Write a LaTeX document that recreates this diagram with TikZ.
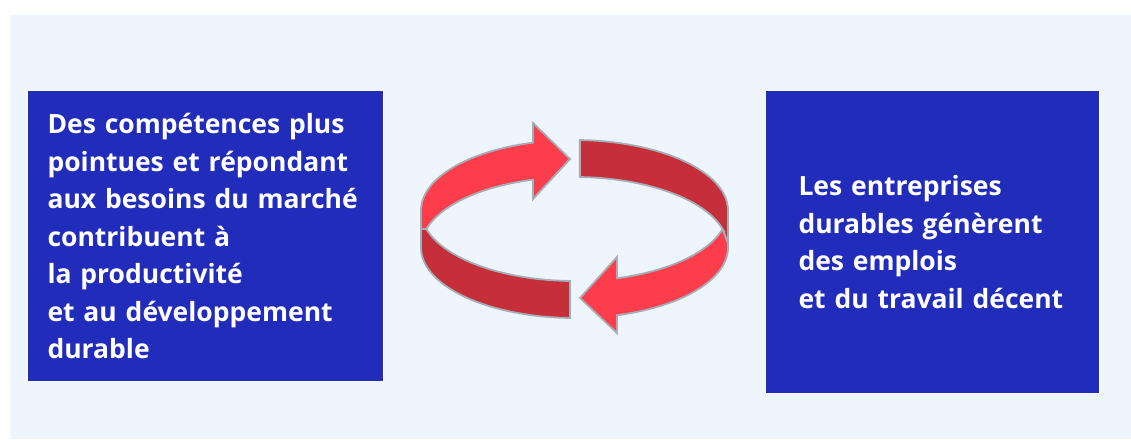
\documentclass[tikz,border=0pt]{standalone}
\usepackage{fontspec}
\setmainfont{Open Sans}
\usepackage{xcolor}
\usepackage{tikz}
\usetikzlibrary{positioning}
\definecolor{paleblue}{RGB}{238, 245, 252}
\definecolor{boxblue}{RGB}{33, 44, 186}
\definecolor{ringlight}{RGB}{253, 60, 76}
\definecolor{ringdark}{RGB}{198, 46, 58}
\definecolor{ringedge}{RGB}{165, 174, 182}

\begin{document}
\begin{tikzpicture}[x=1pt, y=-1pt,
    box/.style={fill=boxblue, draw=white, line width=1pt, text=white, align=left,
      font=\bfseries\fontsize{26.5}{37.5}\selectfont},
    ribbonlight/.style={fill=ringlight, draw=ringedge, line width=1.8pt, line join=miter},
    ribbondark/.style={fill=ringdark, draw=ringedge, line width=1.8pt, line join=miter}]
        % Canvas
        \useasboundingbox (0,0) rectangle (1131,439);
        \fill[white] (0,0) rectangle (1131,439);
        \fill[paleblue] (10,15) rectangle (1131,439);

        % Text boxes
        \node[box, anchor=north west, minimum width=356, minimum height=291, text width=316, inner xsep=20, inner ysep=0]
            (skills) at (27,90) {Des compétences plus\\pointues et répondant\\aux besoins du marché\\contribuent à\\la productivité\\et au développement\\durable};
        \node[box, anchor=north west, minimum width=334, minimum height=303, text width=268, inner xsep=33, inner ysep=0]
            (jobs) at (765,90) {Les entreprises\\durables génèrent\\des emplois\\et du travail décent};

        % Cycle ribbon, lower left (dark)
        \filldraw[ribbondark] (421,229) -- (421,247.5)
            -- plot[domain=180:91.7, samples=40] ({574.5+153.5*cos(\x)}, {247.5+70.5*sin(\x)})
            -- plot[domain=91.7:164.8, samples=40] ({574.5+153.5*cos(\x)}, {210.5+70.5*sin(\x)}) -- cycle;

        % Cycle ribbon, upper left arrow (light)
        \filldraw[ribbonlight] plot[domain=180:254.3, samples=40] ({574.5+153.5*cos(\x)}, {210.5+70.5*sin(\x)})
            -- (533,123) -- (570,159) -- (533,199)
            -- plot[domain=254.3:195.2, samples=40] ({574.5+153.5*cos(\x)}, {247.5+70.5*sin(\x)})
            -- (421,229) -- cycle;

        % Cycle ribbon, lower right arrow (light)
        \filldraw[ribbonlight] plot[domain=15.2:73.9, samples=40] ({574.5+153.5*cos(\x)}, {210.5+70.5*sin(\x)})
            -- (617,257) -- (580,298) -- (617,333)
            -- plot[domain=73.9:0, samples=40] ({574.5+153.5*cos(\x)}, {247.5+70.5*sin(\x)})
            -- (728,243) -- cycle;

        % Cycle ribbon, upper right (dark)
        \filldraw[ribbondark] plot[domain=272:360, samples=40] ({574.5+153.5*cos(\x)}, {210.5+70.5*sin(\x)})
            -- (728,243) -- (722.6,229)
            -- plot[domain=344.8:272, samples=40] ({574.5+153.5*cos(\x)}, {247.5+70.5*sin(\x)}) -- cycle;
\end{tikzpicture}
\end{document}
